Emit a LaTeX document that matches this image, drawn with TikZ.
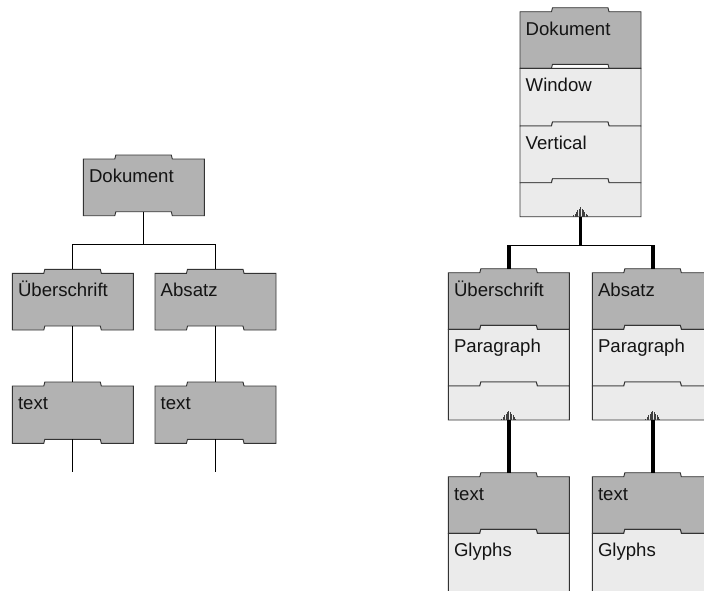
\documentclass[tikz,border=0pt]{standalone}
\usepackage{fontspec}
\setmainfont{Liberation Sans}

% One puzzle-shaped block: name, left x, top y, height, fill style,
% raised tab on top (1/0), notch in the bottom edge (1/0).
\newcommand\Piece[7]{%
  \ifnum#6=1
    \def\PieceTop{-- ++(31.5,0) -- ++(1,-4) -- ++(55.5,0) -- ++(1,4) -- ++(32,0)}%
  \else
    \def\PieceTop{-- ++(121,0)}%
  \fi
  \ifnum#7=1
    \def\PieceBot{-- ++(-32,0) -- ++(-1,-4) -- ++(-55.5,0) -- ++(-1,4) -- ++(-31.5,0)}%
  \else
    \def\PieceBot{-- ++(-121,0)}%
  \fi
  \path[piecedraw,#5] (#2,#3) \PieceTop -- ++(0,#4) \PieceBot -- cycle;
  \ifnum#6=1
    \coordinate (#1-top) at (#2+60.5,#3-4);
  \else
    \coordinate (#1-top) at (#2+60.5,#3);
  \fi
  \ifnum#7=1
    \coordinate (#1-bot) at (#2+60.5,#3+#4-4);
  \else
    \coordinate (#1-bot) at (#2+60.5,#3+#4);
  \fi
}

% Label of a block, set at its upper left
\newcommand\PieceText[4]{%
  \node[lbl] (#1) at (#2+5.5,#3+23.5) {#4};
}

% Small striped triangle at the foot of a stack
\newcommand\Marker[1]{%
  \begin{scope}[shift={(#1)}]
    \foreach \d in {-7,-5.6,...,7.1} {
      \pgfmathsetmacro\hh{9.5*(1-abs(\d)/8.2)}
      \draw[line width=0.7pt,black!75] (\d,0) -- (\d,-\hh);
    }
  \end{scope}
}

\begin{document}
\begin{tikzpicture}[x=1pt,y=-1pt,
  lbl/.style={anchor=base west,inner sep=0pt,
    font=\fontsize{18.6}{22}\selectfont,text=black!92},
  piecedraw/.style={draw=black!80,line width=0.9pt,line join=miter},
  dark/.style={fill=black!30},
  light/.style={fill=black!8},
  thinlink/.style={draw=black,line width=0.9pt},
  thicklink/.style={draw=black,line width=3.4pt},
]
\useasboundingbox (0,0) rectangle (704,590);

% ---------- simple tree (left) ----------
\Piece{docL}{83.3}{159}{56.7}{dark}{1}{1}
\PieceText{docL-t}{83.3}{159}{Dokument}
\Piece{ueL}{12.3}{273.3}{56.7}{dark}{1}{1}
\PieceText{ueL-t}{12.3}{273.3}{Überschrift}
\Piece{abL}{155}{273.3}{56.7}{dark}{1}{1}
\PieceText{abL-t}{155}{273.3}{Absatz}
\Piece{txL1}{12.3}{386}{57.3}{dark}{1}{1}
\PieceText{txL1-t}{12.3}{386}{text}
\Piece{txL2}{155}{386}{57.3}{dark}{1}{1}
\PieceText{txL2-t}{155}{386}{text}

\coordinate (jL) at (143.8,244.3);
\coordinate (endL1) at (72.8,471.7);
\coordinate (endL2) at (215.5,471.7);
\draw[thinlink] (docL-bot) -- (jL);
\draw[thinlink] (ueL-top) |- (jL) -| (abL-top);
\draw[thinlink] (ueL-bot) -- (txL1-top);
\draw[thinlink] (abL-bot) -- (txL2-top);
\draw[thinlink] (txL1-bot) -- (endL1);
\draw[thinlink] (txL2-bot) -- (endL2);

% ---------- stacked tree (right) ----------
\Piece{docR}{520}{11.7}{56.6}{dark}{1}{1}
\PieceText{docR-t}{520}{11.7}{Dokument}
\Piece{winR}{520}{68.3}{57.7}{light}{0}{1}
\PieceText{winR-t}{520}{68.3}{Window}
\Piece{verR}{520}{126}{56.7}{light}{1}{1}
\PieceText{verR-t}{520}{126}{Vertical}
\Piece{baseR}{520}{182.7}{34}{light}{1}{0}
\Marker{baseR-bot}

\Piece{ueR}{448.3}{272.7}{56.6}{dark}{1}{1}
\PieceText{ueR-t}{448.3}{272.7}{Überschrift}
\Piece{paR1}{448.3}{329.3}{56.7}{light}{1}{1}
\PieceText{paR1-t}{448.3}{329.3}{Paragraph}
\Piece{baseR1}{448.3}{386}{34}{light}{1}{0}
\Marker{baseR1-bot}

\Piece{abR}{592.3}{272.7}{56.6}{dark}{1}{1}
\PieceText{abR-t}{592.3}{272.7}{Absatz}
\Piece{paR2}{592.3}{329.3}{56.7}{light}{1}{1}
\PieceText{paR2-t}{592.3}{329.3}{Paragraph}
\Piece{baseR2}{592.3}{386}{34}{light}{1}{0}
\Marker{baseR2-bot}

\Piece{txR1}{448.3}{476.7}{56.6}{dark}{1}{1}
\PieceText{txR1-t}{448.3}{476.7}{text}
\Piece{glR1}{448.3}{533.3}{62}{light}{1}{0}
\PieceText{glR1-t}{448.3}{533.3}{Glyphs}

\Piece{txR2}{592.3}{476.7}{56.6}{dark}{1}{1}
\PieceText{txR2-t}{592.3}{476.7}{text}
\Piece{glR2}{592.3}{533.3}{62}{light}{1}{0}
\PieceText{glR2-t}{592.3}{533.3}{Glyphs}

\coordinate (jR) at (580.5,245);
\coordinate (jR1) at (ueR-top |- jR);
\coordinate (jR2) at (abR-top |- jR);
\draw[thicklink] (baseR-bot) -- (jR);
\draw[thinlink] (jR1) -- (jR2);
\draw[thicklink] (jR1) -- (ueR-top);
\draw[thicklink] (jR2) -- (abR-top);
\draw[thicklink] (baseR1-bot) -- (txR1-top);
\draw[thicklink] (baseR2-bot) -- (txR2-top);
\end{tikzpicture}
\end{document}
